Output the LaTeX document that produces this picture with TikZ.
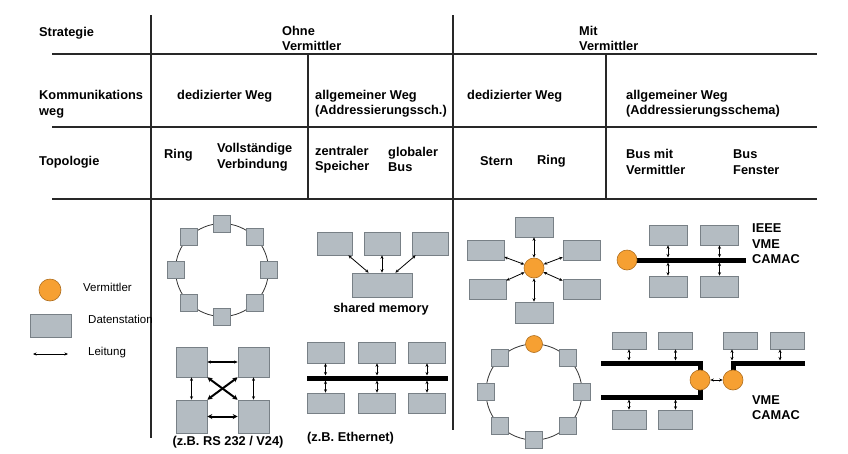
\documentclass[tikz,border=0pt]{standalone}
\usepackage{fontspec}
\setmainfont{Liberation Sans}
\usetikzlibrary{arrows.meta}
\definecolor{boxfill}{RGB}{180,188,194}
\definecolor{boxline}{RGB}{120,128,134}
\definecolor{orangefill}{RGB}{246,160,50}
\definecolor{orangeline}{RGB}{175,110,30}
\definecolor{gridline}{RGB}{40,40,40}
\tikzset{
  lbl/.style={font=\bfseries\fontsize{12.8}{15.5}\selectfont, inner sep=0pt, align=left, anchor=west},
  lblc/.style={lbl, anchor=center, align=center},
  leg/.style={font=\fontsize{11.5}{13}\selectfont, inner sep=0pt, anchor=west},
  grid/.style={draw=gridline, line width=1.2pt},
  databox/.style 2 args={draw=boxline, fill=boxfill, line width=0.6pt, inner sep=0pt, minimum width=#1pt, minimum height=#2pt},
  vermittler/.style={circle, draw=orangeline, fill=orangefill, line width=0.6pt, inner sep=0pt, minimum size=#1pt},
  arr/.style={{Stealth[length=3.5pt,width=3pt]}-{Stealth[length=3.5pt,width=3pt]}, line width=0.8pt, black},
  arrthick/.style={{Stealth[length=5pt,width=5pt]}-{Stealth[length=5pt,width=5pt]}, line width=2pt, black},
  busbar/.style={line width=5pt, black},
}
\begin{document}
\begin{tikzpicture}[x=1pt,y=-1pt]
\useasboundingbox (0,0) rectangle (848,453);
% ---------- table grid ----------
\draw[grid] (151,15) -- (151,438);
\draw[grid] (453,15) -- (453,430);
\draw[grid] (52,54) -- (817,54);
\draw[grid] (52,127) -- (817,127);
\draw[grid] (52,199) -- (817,199);
\draw[grid] (308,54) -- (308,199);
\draw[grid] (606,54) -- (606,199);
% ---------- header texts ----------
\node[lbl] (t1) at (39,33) {Strategie};
\node[lbl] (t2) at (282,38.5) {Ohne\\Vermittler};
\node[lbl] (t3) at (579,38.5) {Mit\\Vermittler};
\node[lbl] (t4) at (39,104) {Kommunikations\\weg};
\node[lbl] (t5) at (177,96) {dedizierter Weg};
\node[lbl] (t6) at (315,103.5) {allgemeiner Weg\\(Addressierungssch.)};
\node[lbl] (t7) at (467,96) {dedizierter Weg};
\node[lbl] (t8) at (626,103.5) {allgemeiner Weg\\(Addressierungsschema)};
\node[lbl] (t9) at (39,162) {Topologie};
\node[lbl] (t10) at (164,155) {Ring};
\node[lbl] (t11) at (217,157) {Vollständige\\Verbindung};
\node[lbl] (t12) at (315,159.5) {zentraler\\Speicher};
\node[lbl] (t13) at (388,159.5) {globaler\\Bus};
\node[lbl] (t14) at (480,161) {Stern};
\node[lbl] (t15) at (537,161) {Ring};
\node[lbl] (t16) at (626,162) {Bus mit\\Vermittler};
\node[lbl] (t17) at (733,162) {Bus\\Fenster};
% ---------- legend ----------
\node[vermittler=22] (lv) at (50,290) {};
\node[leg] (lvt) at (83,287) {Vermittler};
\node[databox={41}{23}] (ld) at (50.5,325.5) {};
\node[leg] (ldt) at (88,319) {Datenstation};
\coordinate (la1) at (33,354);
\coordinate (la2) at (68,354);
\draw[arr, line width=1pt] (la1) -- (la2);
\node[leg] (lat) at (88,353) {Leitung};
% ---------- Ring (ohne Vermittler) ----------
\draw[line width=0.8pt, black!80] (222,270) circle[radius=46.5];
\foreach \i in {0,...,7} {
  \node[databox={17}{17}] (ra\i) at ({222+46.5*cos(45*\i)},{270+46.5*sin(45*\i)}) {};
}
% ---------- Vollstaendige Verbindung ----------
\node[databox={31}{30}] (fTL) at (191.5,362) {};
\node[databox={31}{30}] (fTR) at (253.5,362) {};
\node[databox={31}{33}] (fBL) at (191.5,416.5) {};
\node[databox={31}{33}] (fBR) at (253.5,416.5) {};
\draw[arr, line width=1.4pt] (fTL) -- (fTR);
\draw[arrthick] (fBL) -- (fBR);
\draw[arr, line width=1.4pt] (fTL) -- (fBL);
\draw[arr, line width=1.4pt] (fTR) -- (fBR);
\draw[arrthick] (fTL.south east) -- (fBR.north west);
\draw[arrthick] (fTR.south west) -- (fBL.north east);
\node[lblc] (fl) at (228,442) {(z.B. RS 232 / V24)};
% ---------- shared memory ----------
\node[databox={35}{23}] (sm1) at (334.5,243.5) {};
\node[databox={36}{23}] (sm2) at (382,243.5) {};
\node[databox={36}{23}] (sm3) at (430,243.5) {};
\node[databox={60}{24}] (mem) at (382,285) {};
\draw[arr] ([xshift=-4pt]sm1.south east) -- ([xshift=17pt]mem.north west);
\draw[arr] (sm2) -- (mem);
\draw[arr] ([xshift=4pt]sm3.south west) -- ([xshift=-17pt]mem.north east);
\node[lblc] (sml) at (381,309) {shared memory};
% ---------- globaler Bus (Ethernet) ----------
\draw[busbar] (307,378) -- (448,378);
\foreach \n/\cx in {1/325.5,2/377,3/427} {
  \node[databox={37}{21}] (et\n) at (\cx,352.5) {};
  \node[databox={37}{20}] (eb\n) at (\cx,403) {};
  \coordinate (eu\n) at (\cx,375.5);
  \coordinate (ed\n) at (\cx,380.5);
  \draw[arr] (et\n) -- (eu\n);
  \draw[arr] (ed\n) -- (eb\n);
}
\node[lbl] (el) at (307,438) {(z.B. Ethernet)};
% ---------- Stern ----------
\node[vermittler=20] (sv) at (534,268) {};
\node[databox={38}{20}] (s1) at (534,227) {};
\node[databox={37}{20}] (s2) at (485.5,250) {};
\node[databox={37}{20}] (s3) at (581.5,250) {};
\node[databox={37}{20}] (s4) at (487.5,289) {};
\node[databox={37}{20}] (s5) at (581.5,289) {};
\node[databox={38}{21}] (s6) at (534,312.5) {};
\foreach \k in {1,...,6} { \draw[arr] (sv) -- (s\k); }
% ---------- Ring mit Vermittler ----------
\draw[line width=0.8pt, black!80] (534,392) circle[radius=48];
\foreach \i in {0,...,5,7} {
  \node[databox={17}{17}] (rb\i) at ({534+48*cos(45*\i)},{392+48*sin(45*\i)}) {};
}
\node[vermittler=17] (rv) at (534,344) {};
% ---------- Bus mit Vermittler ----------
\draw[busbar] (630,260) -- (746,260);
\node[vermittler=20] (bv) at (627,260) {};
\foreach \n/\cx in {1/668,2/719.5} {
  \node[databox={38}{20}] (bt\n) at (\cx,235) {};
  \node[databox={38}{21}] (bb\n) at (\cx,286.5) {};
  \coordinate (bu\n) at (\cx,257.5);
  \coordinate (bd\n) at (\cx,262.5);
  \draw[arr] (bt\n) -- (bu\n);
  \draw[arr] (bd\n) -- (bb\n);
}
\node[lbl] (bl) at (752,244) {IEEE\\VME\\CAMAC};
% ---------- Bus Fenster ----------
\draw[busbar] (601,363) -- (700,363) -- (700,397) -- (601,397);
\draw[busbar] (733,372) -- (733,363) -- (805,363);
\node[vermittler=20] (fv1) at (700,380) {};
\node[vermittler=20] (fv2) at (733,380) {};
\draw[arr] (fv1) -- (fv2);
\foreach \n/\cx in {1/629,2/675.5} {
  \node[databox={34}{17}] (wt\n) at (\cx,340.5) {};
  \node[databox={34}{19}] (wb\n) at (\cx,419.5) {};
  \coordinate (wu\n) at (\cx,360.5);
  \coordinate (wd\n) at (\cx,399.5);
  \draw[arr] (wt\n) -- (wu\n);
  \draw[arr] (wd\n) -- (wb\n);
}
\node[databox={34}{17}] (wt3) at (740,340.5) {};
\node[databox={34}{17}] (wt4) at (787,340.5) {};
\coordinate (wu3) at (732,360.5);
\coordinate (wu4) at (780,360.5);
\draw[arr] (wt3.south -| wu3) -- (wu3);
\draw[arr] (wt4.south -| wu4) -- (wu4);
\node[lbl] (wl) at (752,407.5) {VME\\CAMAC};
\end{tikzpicture}
\end{document}
